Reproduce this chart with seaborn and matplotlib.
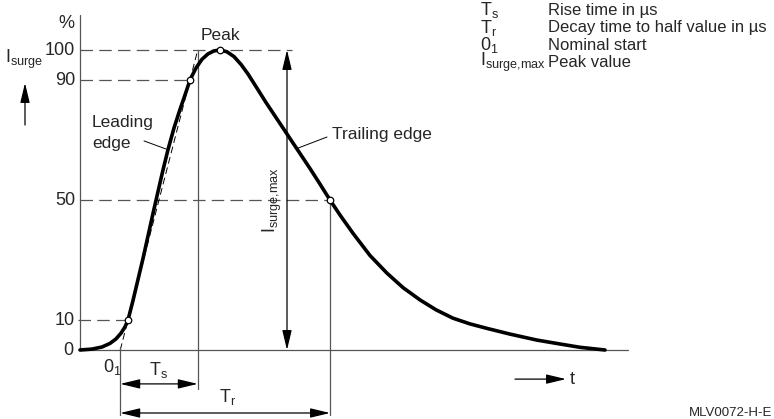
import numpy as np
import matplotlib
matplotlib.use('Agg')
import matplotlib.pyplot as plt
import seaborn as sns

# Surge current curve (t in arbitrary time units, I in % of I_surge,max)
t_curve = [0, 12, 22, 30, 36, 41, 45, 48, 53, 58, 63, 68, 73, 78, 83, 88, 94, 100, 105, 110,
           116, 122, 128, 134, 140, 147, 154, 161, 168, 176, 186, 196, 206, 218, 230, 240, 250,
           260, 273, 290, 307, 323, 340, 356, 373, 390, 407, 430, 457, 480, 500, 525]
i_curve = [0, 0.3, 1.0, 2.2, 3.7, 5.6, 7.7, 10, 16.5, 23.5, 30.5, 38, 45.5, 52.8, 60, 66.8, 74, 80.2, 85, 90,
           94, 96.9, 98.7, 99.7, 100, 99.4, 97.8, 95.2, 92, 87.8, 82.5, 77.5, 72.5, 66.5, 60.5, 55.3, 50,
           45, 38.9, 31.5, 25.6, 20.8, 16.7, 13.4, 10.6, 8.7, 7.2, 5.3, 3.3, 2.0, 0.9, 0]

tick_levels = [0, 10, 50, 90, 100]
tick_labels = ['0', '10', '50', '90', '100']

legend_symbols = [r'$T_s$', r'$T_r$', r'$0_1$', r'$I_{surge{,}max}$']
legend_texts = ['Rise time in µs', 'Decay time to half value in µs', 'Nominal start', 'Peak value']

sns.set_style('white')
plt.rcParams['font.family'] = ['Liberation Sans', 'DejaVu Sans']
plt.rcParams['mathtext.default'] = 'regular'
FS = 13      # numbers and symbols
FW = 12.5    # words

t = np.array(t_curve, dtype=float)
i = np.array(i_curve, dtype=float)
pk = int(np.argmax(i))
t10 = np.interp(10, i[:pk + 1], t[:pk + 1])
t90 = np.interp(90, i[:pk + 1], t[:pk + 1])
t50 = np.interp(50, i[pk:][::-1], t[pk:][::-1])
slope = 80 / (t90 - t10)
t_o1 = t10 - 10 / slope
t_top = t90 + 10 / slope

fig = plt.figure(figsize=(7.74, 4.19), dpi=100)
ax = fig.add_axes([0, 0, 1, 1])
ax.set_xlim(-80, 694)
ax.set_ylim(-23, 350 / 3)
ax.axis('off')

grey = '#555555'
dash = (0, (10, 5))

# coordinate axes
ax.plot([0, 0], [0, 111.7], color=grey, lw=0.9)
ax.plot([0, 548], [0, 0], color=grey, lw=0.9)

# dashed reference levels
x_max_arrow = 207
ax.plot([-2, t10], [10, 10], color=grey, lw=0.9, ls=dash)
ax.plot([0, t90], [90, 90], color=grey, lw=0.9, ls=dash)
ax.plot([0, t50], [50, 50], color=grey, lw=0.9, ls=dash)
ax.plot([0, x_max_arrow + 5], [100, 100], color=grey, lw=0.9, ls=dash)

# tangent through 10% and 90%
ax.plot([t_o1, t_top], [0, 100], color='black', lw=0.7, ls=(0, (7, 4)))

# vertical construction lines
ax.plot([t_o1, t_o1], [1, -21.5], color=grey, lw=0.9)
ax.plot([t_top, t_top], [100, -13], color=grey, lw=0.9)
ax.plot([t50, t50], [50, -21.5], color=grey, lw=0.9)

# curve
sns.lineplot(x=t, y=i, color='black', lw=2.6, ax=ax, sort=False)
mk_t = [t10, t90, t[pk], t50]
mk_i = [10, 90, 100, 50]
sns.scatterplot(x=mk_t, y=mk_i, s=22, color='white', edgecolor='black', linewidth=0.9, zorder=5, ax=ax)


def arrow(x0, y0, x1, y1, style='-|>', color='black'):
    ax.annotate('', xy=(x1, y1), xytext=(x0, y0),
                arrowprops=dict(arrowstyle=style + ',head_length=1.0,head_width=0.24',
                                color=color, lw=0.9, shrinkA=0, shrinkB=0, mutation_scale=12))


arrow(t_o1, -11.3, t_top, -11.3, '<|-|>')
arrow(t_o1, -21, t50, -21, '<|-|>')
arrow(x_max_arrow, 0, x_max_arrow, 100, '<|-|>')
arrow(-55, 75, -55, 89)
arrow(435, -9.7, 486, -9.7)

# y tick labels
for lv, lb in zip(tick_levels, tick_labels):
    ax.text(-5 if lv else -7, lv, lb, ha='right', va='center', fontsize=FS)
ax.text(-14, 109, '%', ha='center', va='center', fontsize=FS)
ax.text(-75, 97, r'$I_{surge}$', ha='left', va='center', fontsize=FS)

# annotations
ax.text(t[pk], 105, 'Peak', ha='center', va='center', fontsize=FW)
ax.text(12, 76, 'Leading', ha='left', va='center', fontsize=FW)
ax.text(12, 69, 'edge', ha='left', va='center', fontsize=FW)
ax.plot([64, 86], [69.7, 67], color='black', lw=0.7)
ax.text(252, 71.7, 'Trailing edge', ha='left', va='center', fontsize=FW)
ax.plot([218, 247], [67.3, 71], color='black', lw=0.7)
ax.text(x_max_arrow - 15, 50, r'$I_{surge{,}max}$', ha='center', va='center', rotation=90, fontsize=FS)
ax.text(23, -5.7, r'$0_1$', ha='left', va='center', fontsize=FS)
ax.text((t_o1 + t_top) / 2, -6.7, r'$T_s$', ha='center', va='center', fontsize=FS)
ax.text(148, -15.7, r'$T_r$', ha='center', va='center', fontsize=FS)
ax.text(490, -9.7, 't', ha='left', va='center', fontsize=FS)
ax.text(692, -21, 'MLV0072-H-E', ha='right', va='center', fontsize=9.5)

# legend block
for k, (sym, txt) in enumerate(zip(legend_symbols, legend_texts)):
    yy = (350 - (10 + k * 17.5)) / 3
    ax.text(400, yy, sym, ha='left', va='center', fontsize=FS)
    ax.text(468, yy, txt, ha='left', va='center', fontsize=12)

fig.savefig('out.png', dpi=100)
